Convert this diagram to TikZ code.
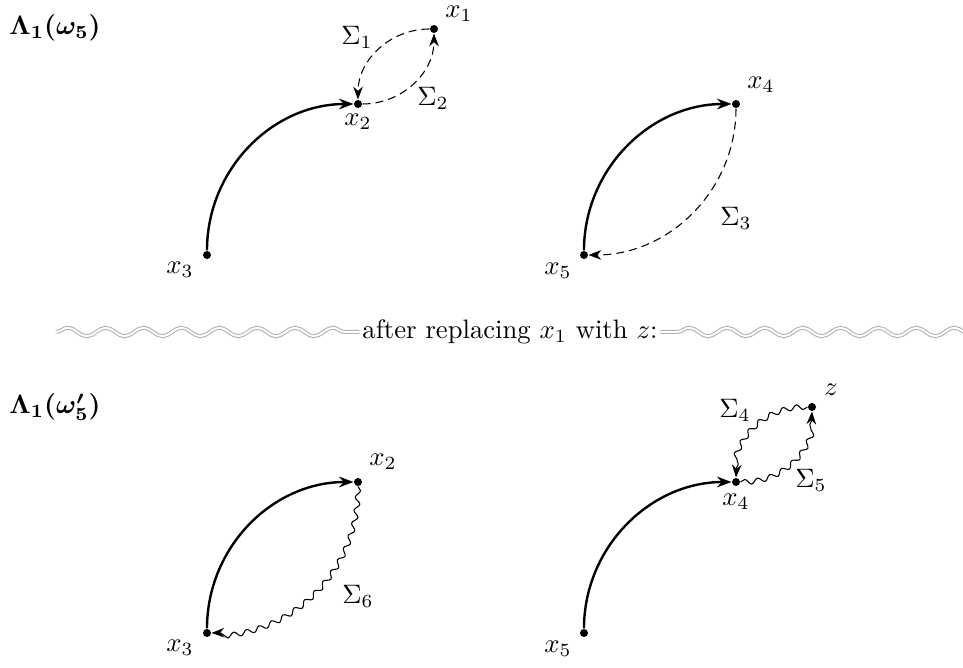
\documentclass[tikz,border=0pt]{standalone}
\usepackage{amsmath,bm}
\usetikzlibrary{arrows.meta,decorations.pathmorphing}
\begin{document}
\begin{tikzpicture}[x=0.375pt,y=-0.375pt,
  dot/.style={circle,fill,inner sep=0pt,minimum size=3pt},
  lbl/.style={inner sep=0pt},
  solidarc/.style={line width=0.9pt,-{Stealth[length=5.4pt,width=4pt]}},
  dasharc/.style={line width=0.4pt,dash pattern=on 3pt off 1.9pt,-{Stealth[length=4.8pt,width=3.6pt]}},
  wavyarc/.style={line width=0.4pt,-{Stealth[length=4.8pt,width=3.6pt]},decorate,
    decoration={snake,amplitude=0.95pt,segment length=5pt,post length=3pt}},
  sepline/.style={draw=gray!60,double=white,double distance=0.7pt,line width=0.4pt,decorate,
    decoration={snake,amplitude=1.6pt,segment length=14.2pt}}
]
\useasboundingbox (0,0) rectangle (963,668);

% ---------- top ----------
\node[lbl] (L1) at (55,28) {$\bm{\Lambda_1(\omega_5)}$};
\node[dot] (a1) at (434,29) {};
\node[dot] (a2) at (358,104) {};
\node[dot] (a3) at (207,255) {};
\node[dot] (a4) at (736,104) {};
\node[dot] (a5) at (584,255) {};

\node[lbl] (la1) at (459,14) {$x_1$};
\node[lbl] (la2) at (358,122) {$x_2$};
\node[lbl] (la3) at (180,270) {$x_3$};
\node[lbl] (la4) at (761,85) {$x_4$};
\node[lbl] (la5) at (558,271) {$x_5$};
\node[lbl] (s1) at (357,37) {$\Sigma_1$};
\node[lbl] (s2) at (433,98) {$\Sigma_2$};
\node[lbl] (s3) at (736,218) {$\Sigma_3$};

\draw[solidarc] (a3) to[out=90,in=180] (a2);
\draw[dasharc] (a1) to[out=180,in=90] (a2);
\draw[dasharc] (a2) to[out=0,in=-90] (a1);
\draw[solidarc] (a5) to[out=90,in=180] (a4);
\draw[dasharc] (a4) to[out=-90,in=0] (a5);

% ---------- separator ----------
\node[inner sep=1pt] (sep) at (510,332) {after replacing $x_1$ with $z$:};
\coordinate (sepL) at (56,332);
\coordinate (sepR) at (985,332);
\draw[sepline] (sepL) -- (sep.west);
\draw[sepline] (sepR) -- (sep.east);

% ---------- bottom ----------
\node[lbl] (L2) at (55,407) {$\bm{\Lambda_1(\omega'_5)}$};
\node[dot] (b2) at (358,482) {};
\node[dot] (b3) at (207,633) {};
\node[dot] (b4) at (736,482) {};
\node[dot] (b5) at (584,633) {};
\node[dot] (bz) at (812,407) {};

\node[lbl] (lb2) at (383,462) {$x_2$};
\node[lbl] (lb3) at (180,648) {$x_3$};
\node[lbl] (lb4) at (736,502) {$x_4$};
\node[lbl] (lb5) at (558,649) {$x_5$};
\node[lbl] (lbz) at (831,390) {$z$};
\node[lbl] (s4) at (735,410) {$\Sigma_4$};
\node[lbl] (s5) at (811,480) {$\Sigma_5$};
\node[lbl] (s6) at (358,596) {$\Sigma_6$};

\draw[solidarc] (b3) to[out=90,in=180] (b2);
\draw[wavyarc] (b2) to[out=-90,in=0] (b3);
\draw[solidarc] (b5) to[out=90,in=180] (b4);
\draw[wavyarc] (bz) to[out=180,in=90] (b4);
\draw[wavyarc] (b4) to[out=0,in=-90] (bz);
\end{tikzpicture}
\end{document}
